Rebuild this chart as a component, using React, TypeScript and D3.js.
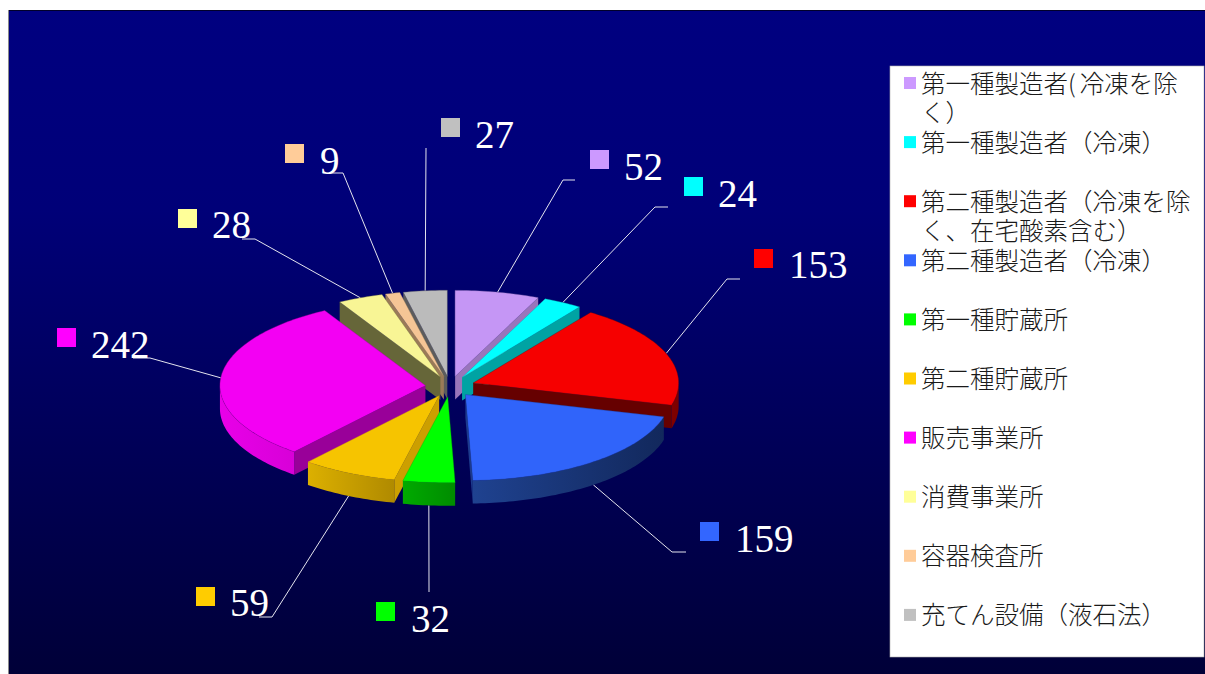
import React from 'react';
import * as d3 from 'd3';

// Values
const categories = ['52', '24', '153', '159', '32', '59', '242', '28', '9', '27'];
const values = [52, 24, 153, 159, 32, 59, 242, 28, 9, 27];
const legendLines = [
  ['第一種製造者(冷凍を除', 'く）'],
  ['第一種製造者（冷凍）'],
  ['第二種製造者（冷凍を除', 'く、在宅酸素含む）'],
  ['第二種製造者（冷凍）'],
  ['第一種貯蔵所'],
  ['第二種貯蔵所'],
  ['販売事業所'],
  ['消費事業所'],
  ['容器検査所'],
  ['充てん設備（液石法）'],
];

const keyColors = ['#cc99ff', '#00ffff', '#ff0000', '#3366ff', '#00ff00', '#ffcc00', '#ff00ff', '#ffff99', '#ffcc99', '#c0c0c0'];
const topColors = ['#c596f5', '#00ffff', '#f60000', '#3064fa', '#00ff00', '#f6c400', '#f300f3', '#f8f595', '#f5c595', '#bbbbbb'];
const cutColors = ['#9975bb', '#00a3a3', '#660000', '#1c3a8c', '#00aa00', '#cc9f00', '#990099', '#666639', '#9a7a58', '#5c5c5c'];
const wallLeft = ['#9975bb', '#00a3a3', '#800000', '#1f4290', '#00aa00', '#dcb000', '#e800e8', '#666639', '#9a7a58', '#5c5c5c'];
const wallRight = ['#9975bb', '#00a3a3', '#7a0000', '#12285c', '#008c00', '#b08a00', '#d800d8', '#666639', '#9a7a58', '#5c5c5c'];

// Label placement: colour key, number, and the elbow of the leader line
const keyPos = [[590, 150], [684, 177], [754, 249], [700, 522], [376, 602], [196, 587], [57, 328], [178, 209], [285, 144], [441, 118]];
const textPos = [[624, 180], [718, 207], [789, 278], [735, 552], [411, 632], [230, 616], [91, 358], [212, 238], [320, 174], [475, 148]];
const leaderPts = [
  [[575, 180], [563, 180]],
  [[668, 207], [655, 207]],
  [[740, 279], [727, 279]],
  [[686, 552], [672, 552]],
  [[429, 592]],
  [[259, 617], [272, 617]],
  [[133, 358], [150, 358]],
  [[242, 239], [255, 239]],
  [[329, 173], [343, 173]],
  [[426, 148]],
];

const W = 1205;
const H = 674;
const CX = 450;
const CY = 386.5;
const RX = 205.5;
const RY = 86;
const DEPTH = 23;
const EXPLODE = 0.12;

const LEGEND = { x: 890, y: 66, w: 314, h: 591, rowStep: 59.1, lineStep: 29.5, firstBase: 92.5 };

const xScale = d3.scaleLinear().domain([-1, 1]).range([CX - RX, CX + RX]);
const yScale = d3.scaleLinear().domain([-1, 1]).range([CY + RY, CY - RY]);

const pie = d3.pie<number>().sort(null).startAngle(0).endAngle(2 * Math.PI);
const line = d3.line();

type Pt = [number, number];

export default function App() {
  const arcs = pie(values);

  const slices = arcs.map((a, i) => {
    const mid = (a.startAngle + a.endAngle) / 2;
    const ox = EXPLODE * Math.sin(mid);
    const oy = EXPLODE * Math.cos(mid);
    const pt = (t: number, r: number, drop = 0): Pt => [
      xScale(ox + r * Math.sin(t)),
      yScale(oy + r * Math.cos(t)) + drop,
    ];
    const arcPts = (t0: number, t1: number, drop = 0): Pt[] => {
      const n = Math.max(2, Math.ceil((t1 - t0) / 0.02));
      return d3.range(n + 1).map(k => pt(t0 + ((t1 - t0) * k) / n, 1, drop));
    };
    return { a, i, mid, pt, arcPts };
  });

  const drawOrder = [...slices].sort((p, q) => Math.cos(q.mid) - Math.cos(p.mid));

  // leaders end on the rim at the slice's mid angle (lower rim for front slices)
  const leaderPath = (s: (typeof slices)[number]) => {
    const drop = Math.cos(s.mid) < 0 ? DEPTH : 0;
    return line([...(leaderPts[s.i] as Pt[]), s.pt(s.mid, 1, drop)]) as string;
  };

  return (
    <div style={{ position: 'absolute', left: 0, top: 0 }}>
      <svg width={W} height={H} style={{ display: 'block' }}>
        <defs>
          <linearGradient id="bg" x1="0" y1="0" x2="0" y2="1">
            <stop offset="0" stopColor="#000080" />
            <stop offset="0.3" stopColor="#000078" />
            <stop offset="1" stopColor="#000038" />
          </linearGradient>
          {slices.map(s => {
            const t0 = Math.max(s.a.startAngle, Math.PI / 2);
            const t1 = Math.min(s.a.endAngle, (3 * Math.PI) / 2);
            if (t1 <= t0) return null;
            const xs = s.arcPts(t0, t1).map(p => p[0]);
            return (
              <linearGradient key={s.i} id={`wall${s.i}`} gradientUnits="userSpaceOnUse"
                x1={d3.min(xs)} x2={d3.max(xs)} y1={0} y2={0}>
                <stop offset="0" stopColor={wallLeft[s.i]} />
                <stop offset="1" stopColor={wallRight[s.i]} />
              </linearGradient>
            );
          })}
        </defs>

        <rect x={8} y={10} width={W - 8} height={H - 10} fill="#8a8a8a" />
        <rect x={9} y={10} width={W - 9} height={H - 10} fill="url(#bg)" />
        <line x1={9} x2={W} y1={10.5} y2={10.5} stroke="#00002a" />

        {/* Leader lines */}
        {slices.map(s => (
          <path key={s.i} d={leaderPath(s)} fill="none" stroke="#e4e4ee" strokeWidth={1} />
        ))}

        {/* Slices, back to front */}
        {drawOrder.map(s => {
          const { a, i, pt, arcPts } = s;
          const apex = pt(0, 0);
          const apexLow = pt(0, 0, DEPTH);
          const cutWall = (t: number) =>
            line([apex, pt(t, 1), pt(t, 1, DEPTH), apexLow]) + 'Z';
          const t0 = Math.max(a.startAngle, Math.PI / 2);
          const t1 = Math.min(a.endAngle, (3 * Math.PI) / 2);
          return (
            <g key={i}>
              {Math.sin(a.startAngle) < -1e-6 && <path d={cutWall(a.startAngle)} fill={cutColors[i]} />}
              {Math.sin(a.endAngle) > 1e-6 && <path d={cutWall(a.endAngle)} fill={cutColors[i]} />}
              {t1 > t0 && (
                <path
                  d={line([...arcPts(t0, t1), ...arcPts(t0, t1, DEPTH).reverse()]) + 'Z'}
                  fill={`url(#wall${i})`}
                />
              )}
              <path
                d={line([apex, ...arcPts(a.startAngle, a.endAngle)]) + 'Z'}
                fill={topColors[i]}
                stroke={cutColors[i]}
                strokeOpacity={0.45}
                strokeWidth={0.8}
              />
            </g>
          );
        })}

        {/* Data labels */}
        {categories.map((c, i) => (
          <g key={c}>
            <rect x={keyPos[i][0]} y={keyPos[i][1]} width={19} height={19} fill={keyColors[i]} />
            <text x={textPos[i][0]} y={textPos[i][1]} fill="#ffffff"
              fontFamily="'Liberation Serif', serif" fontSize={39}>
              {c}
            </text>
          </g>
        ))}

        {/* Legend */}
        <rect x={LEGEND.x} y={LEGEND.y} width={LEGEND.w} height={LEGEND.h} fill="#ffffff" stroke="#b0b0b0" strokeWidth={0.6} />
        {legendLines.map((lines, i) => {
          const base = LEGEND.firstBase + i * LEGEND.rowStep;
          return (
            <g key={i}>
              <rect x={904} y={base - 15.5} width={12} height={12} fill={keyColors[i]} />
              {lines.map((t, k) => (
                <text key={k} x={921} y={base + k * LEGEND.lineStep}
                  fontFamily="'Noto Sans CJK JP', sans-serif" fontSize={24.5} fontWeight={300} fill="#1a1a1a">
                  {/* the half-width bracket sits in a wider gap in the original */}
                  {t.split(/(?<=\()/).map((part, p) => (
                    <tspan key={p} dx={p > 0 ? 4 : 0}>{part}</tspan>
                  ))}
                </text>
              ))}
            </g>
          );
        })}
      </svg>
    </div>
  );
}
